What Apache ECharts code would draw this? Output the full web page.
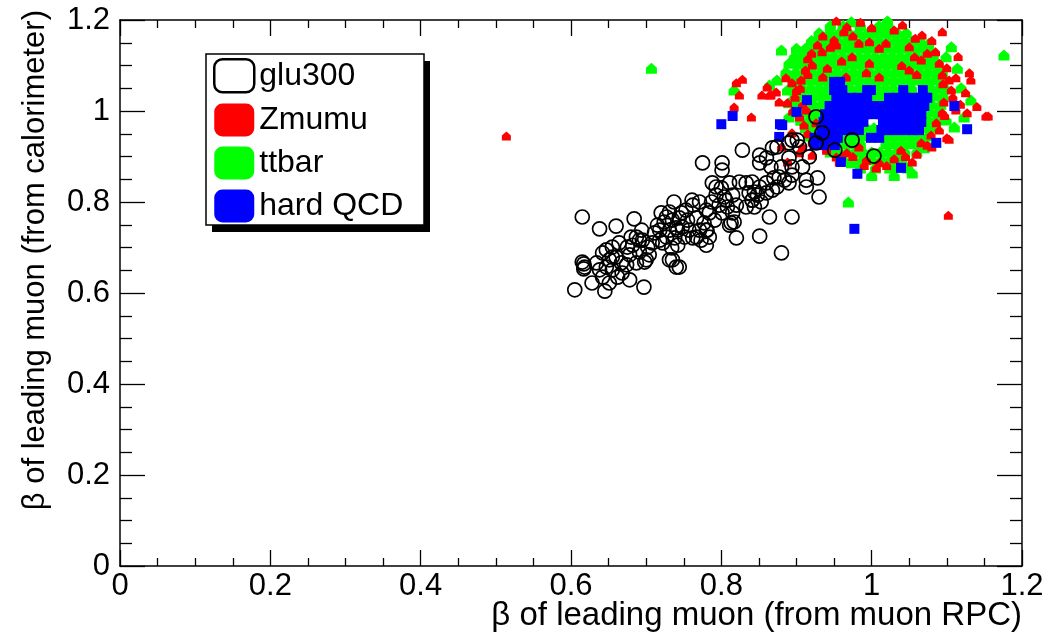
<!DOCTYPE html>
<html>
<head>
<meta charset="utf-8">
<script src="https://cdn.jsdelivr.net/npm/echarts@6/dist/echarts.min.js"></script>
<style>html,body{margin:0;padding:0;background:#fff;}#chart{width:1055px;height:635px;}</style>
</head>
<body>
<div id="chart"></div>
<script>
const seriesNames = ['glu300', 'Zmumu', 'ttbar', 'hard QCD'];
const seriesColors = ['#000000', '#ff0000', '#00ff00', '#0000ff'];
const xTitle = 'β of leading muon (from muon RPC)';
const yTitle = 'β of leading muon (from calorimeter)';
const axisMin = 0, axisMax = 1.2, axisStep = 0.2;

const glu300 = [
[0.605,0.607],[0.628,0.622],[0.645,0.604],[0.697,0.613],[0.615,0.767],[0.638,0.741],[0.660,0.747],[0.684,0.763],
[0.617,0.664],[0.617,0.653],[0.642,0.688],[0.655,0.679],[0.678,0.629],[0.691,0.716],[0.700,0.673],[0.718,0.716],
[0.737,0.800],[0.727,0.767],[0.740,0.743],[0.744,0.657],[0.735,0.673],[0.761,0.804],[0.767,0.723],[0.780,0.738],
[0.775,0.886],[0.801,0.886],[0.801,0.870],[0.820,0.721],[0.813,0.754],[0.793,0.833],[0.806,0.804],[0.824,0.844],
[0.828,0.914],[0.851,0.903],[0.851,0.725],[0.868,0.919],[0.844,0.822],[0.860,0.842],[0.864,0.767],[0.880,0.688],
[0.894,0.767],[0.913,0.833],[0.928,0.853],[0.930,0.811],[0.917,0.899],[0.901,0.936],[0.890,0.897],[0.880,0.877],
[0.874,0.921],[0.926,0.987],[0.934,0.952],[0.974,0.936],[0.841,0.804],[0.833,0.789],[0.951,0.914],[1.003,0.901],
[0.890,0.930],
[0.651,0.673],[0.660,0.679],[0.647,0.657],[0.638,0.651],[0.655,0.651],[0.667,0.666],[0.674,0.662],[0.662,0.635],
[0.668,0.644],[0.642,0.635],[0.634,0.666],[0.618,0.657],[0.615,0.668],[0.651,0.622],[0.664,0.710],[0.655,0.701],[0.647,0.695],
[0.687,0.723],[0.695,0.716],[0.682,0.705],[0.702,0.701],[0.691,0.690],[0.678,0.684],[0.704,0.684],[0.698,0.668],
[0.687,0.666],[0.708,0.710],[0.675,0.701],[0.694,0.738],[0.711,0.732],[0.680,0.723],
[0.720,0.776],[0.731,0.778],[0.724,0.756],[0.735,0.760],[0.744,0.765],[0.718,0.738],[0.731,0.738],[0.742,0.738],
[0.727,0.723],[0.738,0.721],[0.722,0.710],[0.734,0.699],[0.742,0.705],[0.715,0.749],[0.740,0.657],[0.731,0.673],
[0.753,0.782],[0.762,0.793],[0.771,0.800],[0.755,0.760],[0.767,0.765],[0.777,0.754],[0.757,0.738],[0.771,0.738],
[0.781,0.738],[0.762,0.721],[0.773,0.716],[0.784,0.723],[0.780,0.705],[0.751,0.723],[0.748,0.745],[0.747,0.776],
[0.784,0.776],[0.791,0.760],[0.780,0.782],
[0.788,0.842],[0.800,0.831],[0.811,0.842],[0.793,0.815],[0.804,0.811],[0.815,0.815],[0.797,0.793],[0.808,0.789],
[0.820,0.793],[0.815,0.776],[0.801,0.776],[0.787,0.800],[0.817,0.756],[0.811,0.749],
[0.833,0.842],[0.841,0.844],[0.851,0.833],[0.841,0.804],[0.837,0.820],[0.848,0.815],[0.860,0.820],[0.868,0.826],
[0.853,0.800],[0.844,0.789],[0.874,0.833],[0.870,0.853],[0.884,0.848],[0.894,0.859],[0.890,0.842],[0.913,0.848],
[0.894,0.877],[0.908,0.877],[0.904,0.921],[0.926,0.930],[0.894,0.936],[0.860,0.897],[0.851,0.886],[0.866,0.877],[0.877,0.855]
];

const zmumu = [
[0.514,0.945],[0.953,1.198],[0.967,1.185],[0.963,1.174],[1.067,1.167],[1.094,1.174],[1.041,1.189],[0.935,1.165],
[0.920,1.127],[0.934,1.130],[0.953,1.145],[0.950,1.156],[0.983,1.149],[0.997,1.152],[1.010,1.138],[1.019,1.149],
[1.050,1.141],[1.057,1.119],[1.074,1.127],[1.080,1.155],[1.115,1.120],
[0.921,1.101],[0.906,1.068],[0.886,1.073],[0.894,1.062],[0.873,1.042],[0.866,1.035],[0.888,1.018],[0.877,1.020],
[0.913,1.002],[0.904,0.987],[0.910,0.969],[0.894,0.952],[0.921,0.932],[0.908,0.921],[0.940,0.914],[0.953,0.899],
[0.967,0.908],[0.983,0.921],[0.993,0.892],[1.010,0.886],[1.006,0.875],[1.039,0.914],[1.054,0.888],[1.066,0.930],
[1.079,0.947],[1.080,0.921],[1.100,0.941],[1.086,0.974],[1.094,0.996],[1.096,1.020],[1.112,1.002],[1.127,0.996],
[1.152,0.989],[1.106,1.046],[1.103,1.068],[1.094,1.079],[1.090,1.105],[1.130,1.084],[1.132,1.068],[1.112,1.073],
[1.066,1.112],[1.050,1.090],[0.997,1.105],[1.010,1.075],[0.993,1.084],[0.966,1.075],[0.974,1.119],[0.941,1.094],
[0.954,0.958],[0.934,0.958],[0.926,0.974],[0.908,1.013],[1.125,1.040],[1.140,1.010],[0.900,1.045],[0.915,1.080],
[1.060,0.905],[1.030,0.895],[0.975,0.900],
[0.828,1.070],[0.820,1.062],[0.824,1.035],[0.817,1.009],[0.840,0.987],[0.854,1.035],[0.864,1.035],[0.861,1.053],
[1.102,0.771],[1.155,0.989],[1.103,0.938],[1.074,0.925],[0.880,0.921],[0.904,0.908],[0.921,0.903],[0.888,0.888],[0.957,0.888],
[0.985,1.195],[1.000,1.183],[1.030,1.178],[0.975,1.165],[1.058,1.160],[0.928,1.145],[0.915,1.115],
[1.100,1.095],[1.108,1.030],[1.118,1.015],[1.095,1.060],[1.090,0.958],[1.097,0.990],[1.085,1.130],
[0.945,0.925],[0.960,0.900],[1.020,0.880],[1.045,0.900],[0.990,0.880],
[0.898,1.030],[0.905,1.050],[0.895,1.000],[0.915,0.950],[0.925,0.945],[0.912,1.090],
[0.945,1.140],[0.960,1.110],[1.040,1.100],[1.060,1.080],[0.935,1.075]
];

const ttbar = [
[0.707,1.094],[0.817,1.046],[0.969,0.800],[1.176,1.123],[0.864,1.057],[0.874,1.068],[0.880,1.134],[0.886,1.086],
[0.888,1.046],[0.890,1.105],[0.890,1.018],[0.890,0.987],[0.897,1.119],[0.900,1.138],[0.906,0.980],[0.908,1.123],
[0.926,1.156],[0.943,1.152],[0.973,1.196],[1.021,1.198],[1.076,1.149],[1.106,1.141],[1.099,1.119],[1.114,1.094],
[1.119,1.051],[1.132,1.024],[1.123,0.987],[1.110,0.965],[1.099,0.980],[1.070,0.919],[1.054,0.864],[1.027,0.877],
[0.973,0.886],[0.934,0.930],
[0.945,1.188],[0.962,1.188],[0.985,1.188],[1.010,1.188],[1.022,1.188],
[0.930,1.172],[0.944,1.172],[0.957,1.172],[0.970,1.172],[0.982,1.172],[0.995,1.172],[1.008,1.172],[1.020,1.172],[1.034,1.172],[1.046,1.172],
[0.920,1.155],[0.931,1.155],[0.942,1.155],[0.955,1.155],[0.966,1.155],[0.977,1.155],[0.988,1.155],[0.999,1.155],[1.010,1.155],[1.021,1.155],[1.032,1.155],[1.043,1.155],[1.055,1.155],[1.064,1.155],
[0.912,1.138],[0.923,1.138],[0.934,1.138],[0.945,1.138],[0.956,1.138],[0.967,1.138],[0.978,1.138],[0.989,1.138],[1.000,1.138],[1.011,1.138],[1.022,1.138],[1.033,1.138],[1.044,1.138],[1.055,1.138],[1.066,1.138],[1.075,1.138],
[0.906,1.120],[0.917,1.120],[0.928,1.120],[0.939,1.120],[0.950,1.120],[0.961,1.120],[0.972,1.120],[0.983,1.120],[0.994,1.120],[1.005,1.120],[1.016,1.120],[1.027,1.120],[1.038,1.120],[1.049,1.120],[1.060,1.120],[1.071,1.120],[1.082,1.120],
[0.902,1.103],[0.913,1.103],[0.924,1.103],[0.935,1.103],[0.946,1.103],[0.957,1.103],[0.968,1.103],[0.979,1.103],[0.990,1.103],[1.001,1.103],[1.012,1.103],[1.023,1.103],[1.034,1.103],[1.045,1.103],[1.056,1.103],[1.067,1.103],[1.078,1.103],[1.088,1.103],
[0.899,1.085],[0.910,1.085],[0.921,1.085],[0.932,1.085],[0.943,1.085],[0.954,1.085],[0.965,1.085],[0.976,1.085],[0.987,1.085],[0.998,1.085],[1.009,1.085],[1.020,1.085],[1.031,1.085],[1.042,1.085],[1.053,1.085],[1.064,1.085],[1.075,1.085],[1.086,1.085],[1.094,1.085],
[0.897,1.068],[0.908,1.068],[0.919,1.068],[0.930,1.068],[0.941,1.068],[0.963,1.068],[0.974,1.068],[0.985,1.068],[0.996,1.068],[1.007,1.068],[1.018,1.068],[1.029,1.068],[1.040,1.068],[1.051,1.068],[1.062,1.068],[1.073,1.068],[1.084,1.068],[1.095,1.068],
[0.897,1.050],[0.908,1.050],[0.919,1.050],[0.930,1.050],[0.941,1.050],[0.972,1.050],[0.983,1.050],[1.007,1.050],[1.018,1.050],[1.029,1.050],[1.053,1.050],[1.079,1.050],[1.090,1.050],[1.098,1.050],
[0.898,1.033],[0.909,1.033],[0.920,1.033],[0.931,1.033],[0.942,1.033],[1.005,1.033],[1.012,1.033],[1.084,1.033],[1.095,1.033],
[0.900,1.015],[0.911,1.015],[0.922,1.015],[0.933,1.015],[1.080,1.015],[1.092,1.015],
[0.903,0.998],[0.914,0.998],[0.925,0.998],[1.077,0.998],[1.089,0.998],
[0.906,0.980],[0.917,0.980],[0.926,0.980],[1.075,0.980],[1.086,0.980],
[0.912,0.963],[0.922,0.963],[0.993,0.963],[1.003,0.963],[1.073,0.963],[1.083,0.963],
[0.917,0.945],[0.965,0.945],[0.976,0.945],[0.987,0.945],[1.020,0.945],[1.031,0.945],[1.042,0.945],[1.053,0.945],[1.064,0.945],[1.075,0.945],
[0.928,0.928],[0.963,0.928],[0.974,0.928],[0.985,0.928],[1.019,0.928],[1.030,0.928],[1.041,0.928],[1.052,0.928],[1.063,0.928],[1.072,0.928],
[0.945,0.910],[0.956,0.910],[0.967,0.910],[0.978,0.910],[0.989,0.910],[1.000,0.910],[1.011,0.910],[1.022,0.910],[1.033,0.910],[1.044,0.910],[1.060,0.910],
[0.962,0.893],[0.975,0.893],[0.988,0.893],[1.000,0.893],[1.013,0.893],[1.025,0.893],[1.040,0.893],
[0.985,0.875],[1.005,0.875],[1.024,0.875],[1.048,0.875],[1.000,0.858],[1.030,0.858]
];

const hardQCD = [
[0.800,0.971],[0.815,0.989],[0.878,0.971],[0.877,0.943],[0.914,1.024],[0.900,0.998],[0.959,0.888],[0.981,0.862],
[1.039,0.875],[1.086,0.930],[1.127,0.960],[1.110,1.011],[1.071,1.029],[0.977,0.741],[0.881,0.969],
[0.950,1.064],[0.958,1.064],
[0.950,1.046],[0.961,1.046],[0.994,1.046],[0.999,1.046],[1.042,1.046],[1.068,1.046],
[0.953,1.029],[0.962,1.029],[0.973,1.029],[0.983,1.029],[0.994,1.029],[1.023,1.029],[1.034,1.029],[1.045,1.029],[1.055,1.029],[1.066,1.029],[1.074,1.029],
[0.944,1.011],[0.954,1.011],[0.965,1.011],[0.975,1.011],[0.986,1.011],[0.997,1.011],[1.007,1.011],[1.018,1.011],[1.029,1.011],[1.039,1.011],[1.050,1.011],[1.060,1.011],[1.070,1.011],
[0.938,0.993],[0.949,0.993],[0.959,0.993],[0.970,0.993],[0.981,0.993],[0.991,0.993],[1.002,0.993],[1.013,0.993],[1.023,0.993],[1.034,0.993],[1.045,0.993],[1.055,0.993],[1.066,0.993],
[0.936,0.976],[0.946,0.976],[0.957,0.976],[0.967,0.976],[0.978,0.976],[0.989,0.976],[1.015,0.976],[1.026,0.976],[1.036,0.976],[1.047,0.976],[1.058,0.976],[1.066,0.976],
[0.933,0.958],[0.944,0.958],[0.954,0.958],[0.965,0.958],[0.975,0.958],[0.983,0.958],[1.013,0.958],[1.023,0.958],[1.034,0.958],[1.045,0.958],[1.055,0.958],[1.063,0.958],
[0.924,0.941],[0.934,0.941],[0.945,0.941],[0.955,0.941],[0.999,0.941],[1.010,0.941],
[0.924,0.925],[0.937,0.925],[0.951,0.925]
];

const FONT = '"Liberation Sans", Arial, Helvetica, sans-serif';
const chart = echarts.init(document.getElementById('chart'), null, {renderer: 'canvas'});

function mkX(pos, showLabel) {
  return {
    type: 'value', position: pos, min: axisMin, max: axisMax, interval: axisStep,
    axisLine: {show: true, onZero: false, lineStyle: {color: '#000', width: 1.5}},
    axisTick: {show: true, inside: true, length: 16, lineStyle: {color: '#000', width: 1.3}},
    minorTick: {show: true, splitNumber: 4, length: 8, lineStyle: {color: '#000', width: 1.3}},
    splitLine: {show: false}, minorSplitLine: {show: false},
    axisLabel: {show: showLabel, margin: 5, color: '#000', fontSize: 31, fontFamily: FONT,
      formatter: v => String(Math.round(v * 10) / 10)}
  };
}
function mkY(pos, showLabel) {
  return {
    type: 'value', position: pos, min: axisMin, max: axisMax, interval: axisStep,
    axisLine: {show: true, onZero: false, lineStyle: {color: '#000', width: 1.5}},
    axisTick: {show: true, inside: true, length: 25, lineStyle: {color: '#000', width: 1.3}},
    minorTick: {show: true, splitNumber: 4, length: 12, lineStyle: {color: '#000', width: 1.3}},
    splitLine: {show: false}, minorSplitLine: {show: false},
    axisLabel: {show: showLabel, margin: 10, color: '#000', fontSize: 31, fontFamily: FONT,
      formatter: v => String(Math.round(v * 10) / 10)}
  };
}

const housePath = 'path://M5 0L10 4.5L10 10L0 10L0 4.5Z';

const option = {
  animation: false,
  backgroundColor: '#ffffff',
  grid: {left: 120, right: 33, top: 20, bottom: 69, containLabel: false, outerBoundsMode: 'none'},
  xAxis: [mkX('bottom', true), mkX('top', false)],
  yAxis: [mkY('left', true), mkY('right', false)],
  legend: {
    left: 213, top: 58, orient: 'vertical', selectedMode: false, z: 20,
    padding: 0, itemWidth: 40, itemHeight: 33, itemGap: 10,
    textStyle: {color: '#000', fontSize: 32, fontFamily: FONT},
    data: [
      {name: seriesNames[0], icon: 'roundRect', itemStyle: {color: '#fff', borderColor: '#000', borderWidth: 2.5, opacity: 1}},
      {name: seriesNames[1], icon: 'roundRect', itemStyle: {color: seriesColors[1], borderWidth: 0, opacity: 1}},
      {name: seriesNames[2], icon: 'roundRect', itemStyle: {color: seriesColors[2], borderWidth: 0, opacity: 1}},
      {name: seriesNames[3], icon: 'roundRect', itemStyle: {color: seriesColors[3], borderWidth: 0, opacity: 1}}
    ]
  },
  graphic: [
    {type: 'rect', z: 10, shape: {x: 212, y: 61, width: 218, height: 171}, style: {fill: '#000'}},
    {type: 'rect', z: 11, shape: {x: 206, y: 54, width: 218, height: 171}, style: {fill: '#fff', stroke: '#000', lineWidth: 1.5}},
    {type: 'text', x: 1022, y: 616, style: {text: xTitle, fill: '#000', font: '33px ' + FONT, textAlign: 'right', textVerticalAlign: 'middle'}},
    {type: 'text', x: 35, y: 10, rotation: Math.PI / 2, style: {text: yTitle, fill: '#000', font: '31px ' + FONT, textAlign: 'right', textVerticalAlign: 'middle'}}
  ],
  series: [
    {name: seriesNames[2], type: 'scatter', data: ttbar, symbol: housePath, symbolSize: 11,
      itemStyle: {color: seriesColors[2], opacity: 1}, z: 2},
    {name: seriesNames[1], type: 'scatter', data: zmumu, symbol: housePath, symbolSize: 9,
      itemStyle: {color: seriesColors[1], opacity: 1}, z: 3},
    {name: seriesNames[3], type: 'scatter', data: hardQCD, symbol: 'rect', symbolSize: 10,
      itemStyle: {color: seriesColors[3], opacity: 1}, z: 4},
    {name: seriesNames[0], type: 'scatter', data: glu300, symbol: 'circle', symbolSize: 14,
      itemStyle: {color: 'rgba(0,0,0,0)', borderColor: '#000', borderWidth: 1.7, opacity: 1}, z: 5}
  ]
};
chart.setOption(option);
</script>
</body>
</html>
